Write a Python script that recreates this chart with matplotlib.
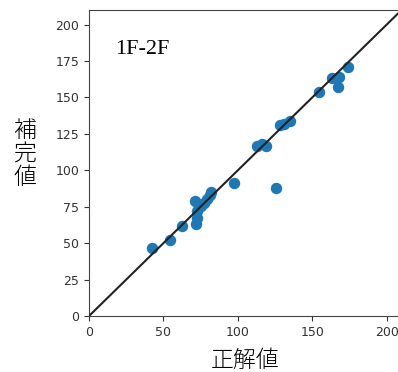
import matplotlib
matplotlib.use("Agg")
import matplotlib.pyplot as plt

true_vals = [42, 54.5, 62.5, 72, 72.5, 72.5, 71, 75, 77, 79, 81, 82, 97.5, 125.5,
             113, 119, 116, 128.5, 131, 135, 154.5, 163, 168, 167, 174]
imputed_vals = [47, 52, 61.5, 63, 67.5, 72, 79, 75.5, 77.5, 80, 83, 85, 91, 88,
                117, 116.5, 118, 131, 132, 134, 154, 163, 164, 157, 171]
title_text = "1F-2F"
xlabel = "正解値"
ylabel = "補\n完\n値"
ticks = [0, 25, 50, 75, 100, 125, 150, 175, 200]
xticks = [0, 50, 100, 150, 200]
lim = 210

fig = plt.figure(figsize=(3.98, 3.72), dpi=100)
ax = fig.add_axes([89/398, 56/372, 312.6/398, 306/372])
ax.scatter(true_vals, imputed_vals, s=52, color="#1f77b4", zorder=2)
ax.plot([0, lim], [0, lim], color="#222222", lw=1.5, zorder=3)
ax.set_xlim(0, lim)
ax.set_ylim(0, lim)
ax.set_xticks(xticks)
ax.tick_params(labelsize=9, colors="#333333")
ax.set_yticks(ticks)
for s in ax.spines.values():
    s.set_color("#444444")

jp = ["Noto Sans CJK JP", "DejaVu Sans"]
ax.set_xlabel(xlabel, fontsize=16.5, family=jp, fontweight="light", va="center", ha="center")
ax.xaxis.set_label_coords(0.5, -0.145)
ax.set_ylabel(ylabel, fontsize=16.5, family=jp, fontweight="light", rotation=0,
              va="center", ha="center", linespacing=0.92)
ax.yaxis.set_label_coords(-0.205, 0.53)

ax.text(17.5, 180, title_text, fontsize=16, family=["Liberation Serif"], va="baseline")

fig.savefig("out.png", dpi=100)
